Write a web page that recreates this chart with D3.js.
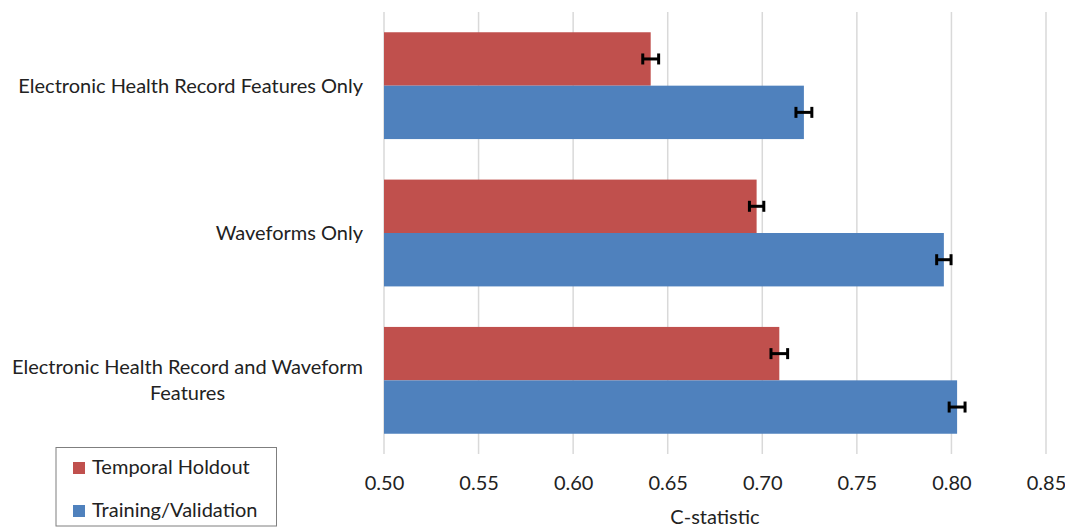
<!DOCTYPE html>
<html>
<head>
<meta charset="utf-8">
<script src="https://cdn.jsdelivr.net/npm/d3@7"></script>
<style>
  html, body { margin: 0; padding: 0; background: #fff; }
  svg { display: block; }
  text { font-family: Lato, "Open Sans", sans-serif; fill: #222; }
</style>
</head>
<body>
<svg id="chart" width="1065" height="528"></svg>
<script>
const categories = [
  "Electronic Health Record Features Only",
  "Waveforms Only",
  "Electronic Health Record and Waveform Features"
];
const seriesNames = ["Temporal Holdout", "Training/Validation"];
const temporalHoldout = [0.641, 0.697, 0.709];
const temporalHoldoutErr = [0.0042, 0.0038, 0.0044];
const trainingValidation = [0.722, 0.796, 0.803];
const trainingValidationErr = [0.0042, 0.0038, 0.0042];
const xTicks = [0.50, 0.55, 0.60, 0.65, 0.70, 0.75, 0.80, 0.85];
const xTitle = "C-statistic";
const colors = ["#C0504D", "#4F81BD"];

const svg = d3.select("#chart");
const W = 1065, H = 528;
const m = { left: 384, right: 19, top: 12, bottom: 74 };
const fontSize = 20;

const x = d3.scaleLinear().domain([0.50, 0.85]).range([m.left, W - m.right]);
const y = d3.scaleBand().domain(categories).range([m.top, H - m.bottom])
  .paddingInner(0.275).paddingOuter(0.1375);
const ySub = d3.scaleBand().domain(seriesNames).range([0, y.bandwidth()]);

// gridlines
svg.append("g").selectAll("line").data(xTicks).join("line")
  .attr("x1", d => x(d)).attr("x2", d => x(d))
  .attr("y1", m.top).attr("y2", H - m.bottom)
  .attr("stroke", "#d9d9d9").attr("stroke-width", 1.5);

// axis tick labels via d3 axis
const xAxis = d3.axisBottom(x).tickValues(xTicks).tickFormat(d3.format(".2f")).tickSize(0).tickPadding(0);
const gx = svg.append("g").attr("transform", `translate(0,${H - m.bottom})`).call(xAxis);
gx.select(".domain").remove();
gx.selectAll("text").attr("font-size", fontSize).attr("font-family", "Lato, sans-serif")
  .attr("fill", "#222").attr("dy", null).attr("y", 36);

svg.append("text").attr("x", (x.range()[0] + x.range()[1]) / 2).attr("y", 524)
  .attr("text-anchor", "middle").attr("font-size", fontSize).text(xTitle);

// bars
const series = [
  { name: seriesNames[0], values: temporalHoldout, errs: temporalHoldoutErr, color: colors[0] },
  { name: seriesNames[1], values: trainingValidation, errs: trainingValidationErr, color: colors[1] }
];
const barData = [];
series.forEach(s => categories.forEach((c, i) => barData.push({ c, s: s.name, v: s.values[i], e: s.errs[i], color: s.color })));

svg.append("g").selectAll("rect").data(barData).join("rect")
  .attr("x", x(0.50))
  .attr("y", d => y(d.c) + ySub(d.s))
  .attr("width", d => x(d.v) - x(0.50))
  .attr("height", ySub.bandwidth())
  .attr("fill", d => d.color);

// error bars
const eb = svg.append("g").attr("stroke", "#000").attr("stroke-width", 3);
barData.forEach(d => {
  const cy = y(d.c) + ySub(d.s) + ySub.bandwidth() / 2;
  const x1 = x(d.v - d.e), x2 = x(d.v + d.e);
  eb.append("line").attr("x1", x1).attr("x2", x2).attr("y1", cy).attr("y2", cy);
  eb.append("line").attr("x1", x1).attr("x2", x1).attr("y1", cy - 5.5).attr("y2", cy + 5.5);
  eb.append("line").attr("x1", x2).attr("x2", x2).attr("y1", cy - 5.5).attr("y2", cy + 5.5);
});

// category labels (wrapped, centered lines, block right-aligned)
const labelRight = m.left - 21;
const maxW = 358;
const lineH = 26;
categories.forEach(c => {
  const g = svg.append("g");
  const probe = g.append("text").attr("font-size", fontSize);
  const words = c.split(" ");
  const lines = [];
  let cur = [];
  words.forEach(w => {
    const trial = cur.concat([w]).join(" ");
    probe.text(trial);
    if (probe.node().getComputedTextLength() > maxW && cur.length) {
      lines.push(cur.join(" "));
      cur = [w];
    } else cur.push(w);
  });
  lines.push(cur.join(" "));
  const widths = lines.map(l => { probe.text(l); return probe.node().getComputedTextLength(); });
  probe.remove();
  const blockW = Math.max(...widths);
  const cx = labelRight - blockW / 2;
  const cyMid = y(c) + y.bandwidth() / 2;
  const firstBase = cyMid + 7 - (lines.length - 1) * lineH / 2;
  lines.forEach((l, i) => {
    g.append("text").attr("x", cx).attr("y", firstBase + i * lineH)
      .attr("text-anchor", "middle").attr("font-size", fontSize).text(l);
  });
});

// legend
const lg = svg.append("g");
lg.append("rect").attr("x", 56).attr("y", 447.5).attr("width", 220.5).attr("height", 78.5)
  .attr("fill", "#fff").attr("stroke", "#7f7f7f").attr("stroke-width", 1);
series.forEach((s, i) => {
  const by = 474 + i * 43;
  lg.append("rect").attr("x", 73).attr("y", by - 12).attr("width", 12).attr("height", 12).attr("fill", s.color);
  lg.append("text").attr("x", 92).attr("y", by).attr("font-size", fontSize).text(s.name);
});
</script>
</body>
</html>
